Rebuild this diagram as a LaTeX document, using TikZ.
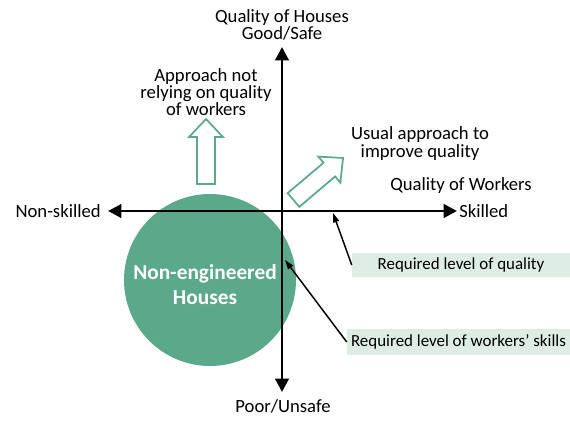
\documentclass[tikz,border=0pt]{standalone}
\usepackage{fontspec}
\setmainfont{Carlito}
\usetikzlibrary{arrows.meta}
\definecolor{ngreen}{HTML}{5BA88A}
\definecolor{lgreen}{HTML}{DDEDE5}
\begin{document}
\begin{tikzpicture}[x=0.75pt,y=-0.75pt,
  lbl/.style={inner sep=0pt, align=center, font=\fontsize{14}{13}\selectfont},
  axis/.style={line width=2.2pt, {Triangle[width=10pt,length=10pt]}-{Triangle[width=10pt,length=10pt]}},
  callout/.style={line width=1.1pt, -{Triangle[width=4.5pt,length=7pt]}},
  notebox/.style={fill=lgreen, inner sep=0pt, font=\fontsize{12.7}{14}\selectfont},
  hollow/.style={draw=ngreen, line width=1.3pt, fill=white, line join=miter},
  harrow/.pic={\draw[hollow] (-9,0) -- (-9,-47) -- (-17,-47) -- (0,-65) -- (17,-47) -- (9,-47) -- (9,0) -- cycle;}]
\useasboundingbox (0,0) rectangle (570,421);
% circle
\node[circle, fill=ngreen, minimum size=129pt, inner sep=0pt] (ne) at (210,280) {};
\node[inner sep=0pt, align=center, text=white, font=\fontsize{16}{18.75}\bfseries] (netext) at (205,284.5) {Non-engineered\\Houses};
% hollow arrows
\pic at (206,184) {harrow};
\pic[rotate=-49.7] at (293.5,200) {harrow};
% axes
\coordinate (vt) at (282,47);
\coordinate (vb) at (282,392);
\coordinate (hl) at (108,211);
\coordinate (hr) at (457,211);
\draw[axis] (vt) -- (vb);
\draw[axis] (hl) -- (hr);
% labels
\node[lbl] (qh) at (282,25) {Quality of Houses\\Good/Safe};
\node[lbl] (pu) at (283,406) {Poor/Unsafe};
\node[lbl, anchor=east] (ns) at (101,211) {Non-skilled};
\node[lbl, anchor=west] (sk) at (459,211) {Skilled};
\node[lbl] (qw) at (461,186) {Quality of Workers};
\node[lbl] (ap) at (206,92) {Approach not\\relying on quality\\of workers};
\node[lbl] (ua) at (420,143.5) {Usual approach to\\improve quality};
% boxes
\node[notebox, minimum width=163.5pt, minimum height=18pt] (b1) at (461,265) {Required level of quality};
\node[notebox, minimum width=167.25pt, minimum height=19.5pt] (b2) at (458.5,342) {Required level of workers’ skills};
\coordinate (q1) at (333,213);
\coordinate (q2) at (285,260);
\draw[callout] (b1.west) -- (q1);
\draw[callout] (b2.west) -- (q2);
\end{tikzpicture}
\end{document}
